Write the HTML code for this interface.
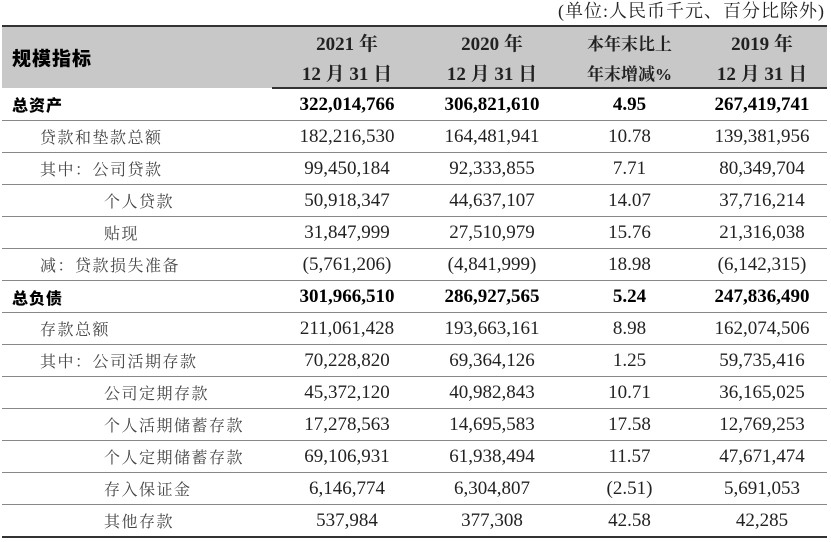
<!DOCTYPE html>
<html><head><meta charset="utf-8"><style>
body{margin:0;width:831px;height:542px;background:#fff;overflow:hidden;font-family:"Liberation Serif","Noto Serif CJK SC",serif;color:#222}
.cap{position:absolute;right:6px;top:-1px;font-size:18px;line-height:24px;letter-spacing:1px}
table{position:absolute;left:2px;top:25px;width:825px;border-collapse:collapse;table-layout:fixed}
td{height:31px;padding:0;font-size:19px;text-align:center;border-bottom:1.5px solid #888;white-space:nowrap}
thead td{background:#c8c8c8;font-weight:bold;height:30px;border:none}
thead tr:first-child td{border-top:2px solid #333}
thead tr:last-child td{border-bottom:2px solid #333}
td.l{text-align:left;font-size:16px;letter-spacing:1.5px;color:#444}
td.b{font-weight:bold;color:#000}
.l.b{font-family:"Noto Sans CJK SC",sans-serif;color:#000;padding-left:10px;letter-spacing:1px;font-weight:900}
.i1{padding-left:38px}.i2{padding-left:102px}
tbody tr:last-child td{border-bottom:2px solid #333}
</style></head><body>
<div class="cap">(单位:人民币千元、百分比除外)</div>
<table>
<colgroup><col style="width:270px"><col style="width:150px"><col style="width:140px"><col style="width:135px"><col style="width:130px"></colgroup>
<thead>
<tr><td rowspan="2" class="l b" style="font-size:19px">规模指标</td><td>2021 年</td><td>2020 年</td><td style="font-size:17px">本年末比上</td><td>2019 年</td></tr>
<tr><td>12 月 31 日</td><td>12 月 31 日</td><td style="font-size:17px">年末增减%</td><td>12 月 31 日</td></tr>
</thead>
<tbody>
<tr><td class="l b">总资产</td><td class="b">322,014,766</td><td class="b">306,821,610</td><td class="b">4.95</td><td class="b">267,419,741</td></tr>
<tr><td class="l i1">贷款和垫款总额</td><td>182,216,530</td><td>164,481,941</td><td>10.78</td><td>139,381,956</td></tr>
<tr><td class="l i1">其中：公司贷款</td><td>99,450,184</td><td>92,333,855</td><td>7.71</td><td>80,349,704</td></tr>
<tr><td class="l i2">个人贷款</td><td>50,918,347</td><td>44,637,107</td><td>14.07</td><td>37,716,214</td></tr>
<tr><td class="l i2">贴现</td><td>31,847,999</td><td>27,510,979</td><td>15.76</td><td>21,316,038</td></tr>
<tr><td class="l i1">减：贷款损失准备</td><td>(5,761,206)</td><td>(4,841,999)</td><td>18.98</td><td>(6,142,315)</td></tr>
<tr><td class="l b">总负债</td><td class="b">301,966,510</td><td class="b">286,927,565</td><td class="b">5.24</td><td class="b">247,836,490</td></tr>
<tr><td class="l i1">存款总额</td><td>211,061,428</td><td>193,663,161</td><td>8.98</td><td>162,074,506</td></tr>
<tr><td class="l i1">其中：公司活期存款</td><td>70,228,820</td><td>69,364,126</td><td>1.25</td><td>59,735,416</td></tr>
<tr><td class="l i2">公司定期存款</td><td>45,372,120</td><td>40,982,843</td><td>10.71</td><td>36,165,025</td></tr>
<tr><td class="l i2">个人活期储蓄存款</td><td>17,278,563</td><td>14,695,583</td><td>17.58</td><td>12,769,253</td></tr>
<tr><td class="l i2">个人定期储蓄存款</td><td>69,106,931</td><td>61,938,494</td><td>11.57</td><td>47,671,474</td></tr>
<tr><td class="l i2">存入保证金</td><td>6,146,774</td><td>6,304,807</td><td>(2.51)</td><td>5,691,053</td></tr>
<tr><td class="l i2">其他存款</td><td>537,984</td><td>377,308</td><td>42.58</td><td>42,285</td></tr>
</tbody></table>
</body></html>
